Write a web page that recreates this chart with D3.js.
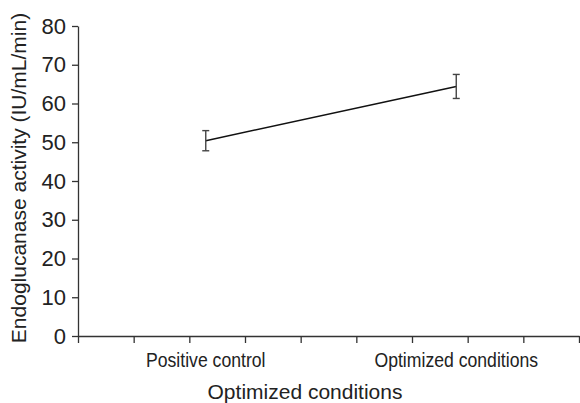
<!DOCTYPE html>
<html>
<head>
<meta charset="utf-8">
<script src="https://cdn.jsdelivr.net/npm/d3@7"></script>
<style>
  body { margin: 0; background: #fff; }
  svg { display: block; }
  .axis path, .axis line { stroke: #333; stroke-width: 1.3; }
  .axis text { fill: #222; font-family: "Liberation Sans", Arial, sans-serif; }
</style>
</head>
<body>
<div id="chart"></div>
<script>
// data
var conditions = ["Positive control", "Optimized conditions"];
var activity = [50.4, 64.4];
var errors = [2.6, 3.1];
var yTicks = [0, 10, 20, 30, 40, 50, 60, 70, 80];

var width = 580, height = 403;
var margin = { top: 26, right: 1, bottom: 67, left: 78 };
var plotW = width - margin.left - margin.right;
var plotH = height - margin.top - margin.bottom;

var svg = d3.select("#chart").append("svg")
  .attr("width", width)
  .attr("height", height);

var g = svg.append("g")
  .attr("transform", "translate(" + margin.left + "," + margin.top + ")");

var y = d3.scaleLinear().domain([0, 80]).range([plotH, 0]);
var x = d3.scalePoint().domain(conditions).range([0, plotW]).padding(0.5).align(0.51);
// the plain tick marks along the bottom
var xTickScale = d3.scaleLinear().domain([0, 9]).range([0, plotW]);

var yAxis = d3.axisLeft(y).tickValues(yTicks).tickSize(6).tickSizeOuter(0).tickPadding(6);
g.append("g")
  .attr("class", "axis")
  .call(yAxis)
  .selectAll("text")
  .style("font-size", "22px");

g.append("g")
  .attr("class", "axis")
  .attr("transform", "translate(0," + plotH + ")")
  .call(d3.axisBottom(xTickScale).ticks(9).tickSize(7).tickSizeOuter(0).tickFormat(""));

// category labels (narrow face, squeezed since no narrow font is installed)
g.selectAll(".cat")
  .data(conditions)
  .enter()
  .append("text")
  .attr("class", "cat")
  .attr("transform", function(d) { return "translate(" + x(d) + "," + (plotH + 31) + ") scale(0.84,1)"; })
  .attr("text-anchor", "middle")
  .style("font-family", "'Liberation Sans Narrow', 'Liberation Sans', sans-serif")
  .style("font-size", "21px")
  .style("fill", "#222")
  .text(function(d) { return d; });

var data = conditions.map(function(c, i) {
  return { cond: c, value: activity[i], err: errors[i] };
});

var line = d3.line()
  .x(function(d) { return x(d.cond); })
  .y(function(d) { return y(d.value); });

g.append("path")
  .datum(data)
  .attr("d", line)
  .attr("fill", "none")
  .attr("stroke", "#111")
  .attr("stroke-width", 1.4);

var bars = g.selectAll(".err")
  .data(data)
  .enter()
  .append("g")
  .attr("class", "err")
  .attr("stroke", "#444")
  .attr("stroke-width", 1.4);

bars.append("line")
  .attr("x1", function(d) { return x(d.cond); })
  .attr("x2", function(d) { return x(d.cond); })
  .attr("y1", function(d) { return y(d.value + d.err); })
  .attr("y2", function(d) { return y(d.value - d.err); });

bars.append("line")
  .attr("x1", function(d) { return x(d.cond) - 3.5; })
  .attr("x2", function(d) { return x(d.cond) + 3.5; })
  .attr("y1", function(d) { return y(d.value + d.err); })
  .attr("y2", function(d) { return y(d.value + d.err); });

bars.append("line")
  .attr("x1", function(d) { return x(d.cond) - 3.5; })
  .attr("x2", function(d) { return x(d.cond) + 3.5; })
  .attr("y1", function(d) { return y(d.value - d.err); })
  .attr("y2", function(d) { return y(d.value - d.err); });

// axis titles
svg.append("text")
  .attr("x", 305)
  .attr("y", 399)
  .attr("text-anchor", "middle")
  .style("font-family", "'Liberation Sans', Arial, sans-serif")
  .style("font-size", "21px")
  .style("fill", "#222")
  .text("Optimized conditions");

svg.append("text")
  .attr("transform", "translate(26,178) rotate(-90)")
  .attr("text-anchor", "middle")
  .style("font-family", "'Liberation Sans', Arial, sans-serif")
  .style("font-size", "21px")
  .style("fill", "#222")
  .text("Endoglucanase activity (IU/mL/min)");
</script>
</body>
</html>
